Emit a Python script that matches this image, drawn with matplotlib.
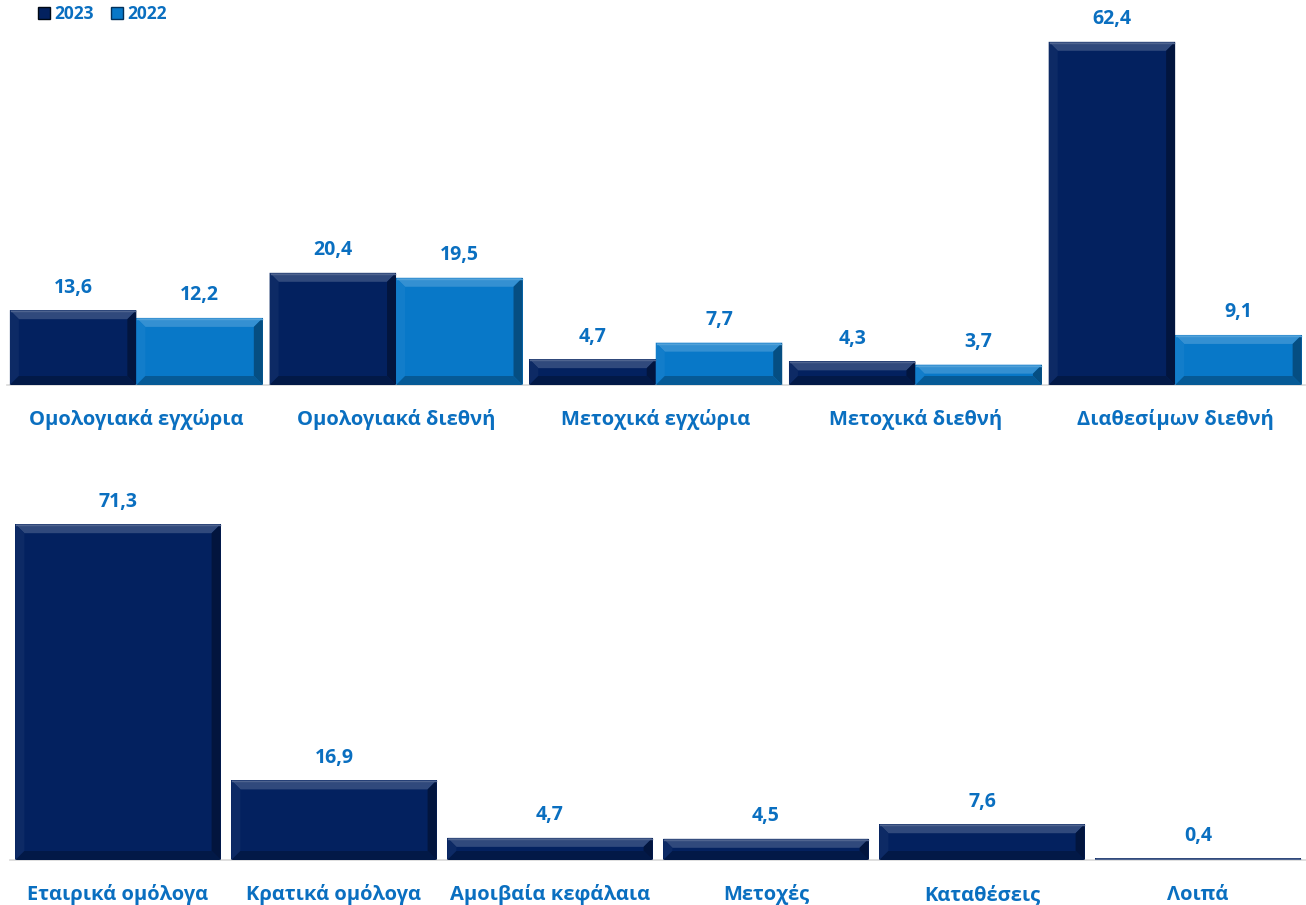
import matplotlib
matplotlib.use("Agg")
import matplotlib.pyplot as plt
from matplotlib.patches import Polygon, Patch
from matplotlib.colors import to_rgb
import numpy as np

plt.rcParams['font.family'] = ['Open Sans', 'DejaVu Sans']

# data
top_cats = ['Ομολογιακά εγχώρια', 'Ομολογιακά διεθνή', 'Μετοχικά εγχώρια',
            'Μετοχικά διεθνή', 'Διαθεσίμων διεθνή']
top_2023 = [13.6, 20.4, 4.7, 4.3, 62.4]
top_2022 = [12.2, 19.5, 7.7, 3.7, 9.1]

bot_cats = ['Εταιρικά ομόλογα', 'Κρατικά ομόλογα', 'Αμοιβαία κεφάλαια',
            'Μετοχές', 'Καταθέσεις', 'Λοιπά']
bot_2023 = [71.3, 16.9, 4.7, 4.5, 7.6, 0.4]

NAVY = '#03215f'
BLUE = '#0878c8'
TXT = '#0a6fc0'

W, H = 1306, 905
fig = plt.figure(figsize=(W / 100, H / 100), dpi=100)


def mix(c, other, t):
    c = np.array(to_rgb(c))
    o = np.array(to_rgb(other))
    return tuple(c * (1 - t) + o * t)


def bevel_bar(ax, x, w, h, color):
    ax.bar(x, h, w, color=color, edgecolor='none', zorder=2)
    tr = ax.transData
    (x0, y0), (x1, y1) = tr.transform([(x - w / 2, 0), (x + w / 2, h)])
    b = min(9.0, (y1 - y0) / 2, (x1 - x0) / 2)
    if b < 0.5:
        return
    pieces = [
        ([(x0, y1), (x1, y1), (x1 - b, y1 - b), (x0 + b, y1 - b)], mix(color, 'white', 0.18)),
        ([(x0, y0), (x0 + b, y0 + b), (x0 + b, y1 - b), (x0, y1)], mix(color, 'white', 0.04)),
        ([(x1, y0), (x1, y1), (x1 - b, y1 - b), (x1 - b, y0 + b)], mix(color, 'black', 0.35)),
        ([(x0, y0), (x1, y0), (x1 - b, y0 + b), (x0 + b, y0 + b)], mix(color, 'black', 0.25)),
    ]
    inv = tr.inverted()
    for pts, col in pieces:
        ax.add_patch(Polygon(inv.transform(pts), closed=True, facecolor=col,
                             edgecolor='none', zorder=3))
    # thin light line along the top edge
    line = inv.transform([(x0 + 1, y1 - 1), (x1 - 1, y1 - 1)])
    ax.plot(line[:, 0], line[:, 1], color=mix(color, 'white', 0.3), lw=1, zorder=4)


def setup(ax, n, ymax):
    ax.set_xlim(-0.5, n - 0.5)
    ax.set_ylim(0, ymax)
    for s in ['top', 'right', 'left']:
        ax.spines[s].set_visible(False)
    ax.spines['bottom'].set_color('#d9d9d9')
    ax.spines['bottom'].set_linewidth(1.2)
    ax.set_yticks([])
    ax.set_xticks([])


def label(ax, x, h, txt):
    ax.annotate(txt, (x, h), xytext=(0, 9), textcoords='offset points',
                ha='center', va='bottom', fontsize=14, fontweight='bold', color=TXT)


def catlabel(ax, x, txt):
    ax.annotate(txt, (x, 0), xytext=(0, -25), textcoords='offset points',
                ha='center', va='center', fontsize=14.5, fontweight='bold', color=TXT)


# top panel
base1, ppu1 = 385, 5.5
ymax1 = 70
ax1 = fig.add_axes([6.5 / W, (H - base1) / H, 1298.5 / W, ymax1 * ppu1 / H])
setup(ax1, len(top_cats), ymax1)
bw = 0.487
for i in range(len(top_cats)):
    bevel_bar(ax1, i - bw / 2, bw, top_2023[i], NAVY)
    bevel_bar(ax1, i + bw / 2, bw, top_2022[i], BLUE)
    label(ax1, i - bw / 2, top_2023[i], f"{top_2023[i]:.1f}".replace('.', ','))
    label(ax1, i + bw / 2, top_2022[i], f"{top_2022[i]:.1f}".replace('.', ','))
    catlabel(ax1, i, top_cats[i])

# bottom panel
base2, ppu2 = 860, 4.71
ymax2 = 90
ax2 = fig.add_axes([10 / W, (H - base2) / H, 1296 / W, ymax2 * ppu2 / H])
setup(ax2, len(bot_cats), ymax2)
bw2 = 0.95
for i in range(len(bot_cats)):
    bevel_bar(ax2, i, bw2, bot_2023[i], NAVY)
    label(ax2, i, bot_2023[i], f"{bot_2023[i]:.1f}".replace('.', ','))
    catlabel(ax2, i, bot_cats[i])

handles = [Patch(facecolor=NAVY, edgecolor='#000814', label='2023'),
           Patch(facecolor=BLUE, edgecolor='#02305a', label='2022')]
fig.legend(handles=handles, loc='upper left', bbox_to_anchor=(22 / W, 1.012),
           ncol=2, frameon=False, handlelength=0.7, handleheight=0.7,
           handletextpad=0.25, columnspacing=1.0, labelcolor=TXT,
           prop={'weight': 'bold', 'size': 12.5})

fig.savefig('out.png', dpi=100)
